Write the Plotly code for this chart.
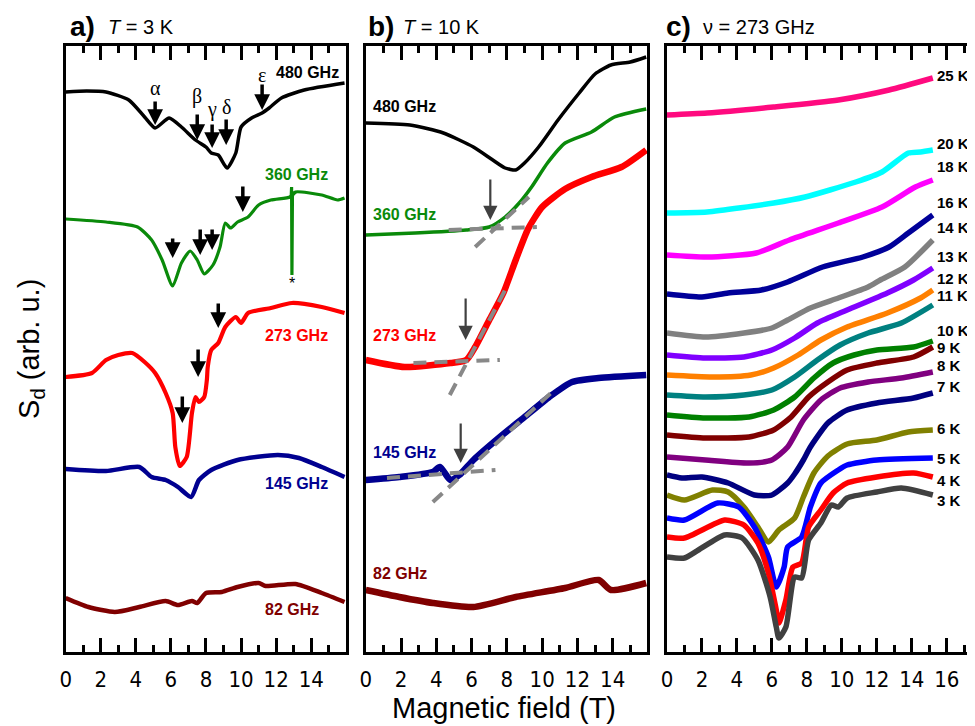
import plotly.graph_objects as go

# ---------------- Panel a: T = 3 K (field in T, signal in arb. units) ----------------
a480_B = [0, 1.2, 2.3, 3.6, 4.5, 5.1, 5.9, 6.6, 7.4, 8.0, 8.3, 8.7, 9.2, 9.7, 10.0, 10.6, 11.2, 11.6, 12.3, 13.6, 15.9]
a480_S = [560, 561, 560, 552, 535, 524, 534, 525, 512, 505, 499, 497, 484, 499, 525, 534, 539, 544, 554, 562, 569]

a360_B = [0, 2.3, 4.1, 4.9, 5.5, 6.1, 6.6, 7.1, 7.5, 7.9, 8.4, 8.8, 9.1, 9.4, 9.8, 10.4, 11.0, 11.7, 12.8, 13.1, 14.6, 15.5, 15.9]
a360_S = [433, 430, 425, 412, 392, 366, 389, 401, 392, 378, 387, 405, 429, 424, 430, 435, 447, 452, 455, 460, 457, 452, 454]
a360_spike_B = [12.8, 12.86, 12.88, 12.9, 12.93, 13.1]
a360_spike_S = [455, 456, 465, 377, 457, 460]

a273_B = [0, 1.5, 2.3, 3.0, 3.8, 4.5, 5.1, 5.7, 6.1, 6.25, 6.5, 6.9, 7.2, 7.4, 7.6, 7.9, 8.05, 8.1, 8.3, 8.7, 9.1, 9.7, 10.0, 10.4, 11.7, 12.9, 14.6, 15.9]
a273_S = [275, 279, 292, 297, 299, 290, 279, 259, 239, 205, 186, 195, 239, 255, 250, 255, 272, 285, 302, 309, 325, 335, 329, 339, 344, 349, 345, 339]

a145_B = [0, 2.3, 4.2, 4.9, 5.7, 6.4, 7.15, 7.6, 8.3, 9.8, 12.1, 13.3, 14.6, 15.9]
a145_S = [183, 181, 185, 175, 172, 165, 155, 172, 182, 192, 197, 194, 185, 175]

a82_B = [0, 1.3, 2.8, 4.2, 5.7, 6.4, 7.2, 7.5, 8.0, 8.9, 9.8, 11.0, 11.4, 13.1, 14.6, 15.9]
a82_S = [54, 45, 40, 45, 51, 47, 51, 49, 59, 60, 65, 69, 66, 68, 59, 50]

# arrows in panel a: field, tip value, tail value
a_arrow_B = [5.1, 7.5, 8.35, 9.15, 11.2, 6.1, 7.67, 8.35, 10.1, 8.7, 7.55, 6.65]
a_arrow_tip = [527, 512, 504, 507, 542, 394, 397, 402, 440, 324, 275, 229]
a_arrow_tail = [552, 539, 529, 534, 569, 415, 424, 424, 467, 350, 304, 257]
greek_labels = ["α", "β", "γ", "δ", "ε"]
greek_S = [564, 555, 542, 545, 577]

# ---------------- Panel b: T = 10 K ----------------
b480_B = [0, 2.5, 4.4, 6.1, 7.2, 7.9, 8.5, 9.0, 9.8, 10.9, 12.1, 13.0, 13.9, 15.0, 15.9]
b480_S = [529, 527, 519, 505, 492, 484, 482, 489, 505, 532, 559, 578, 587, 590, 595]

b360_B = [0, 2.8, 5.7, 7.0, 7.9, 8.7, 9.4, 10.3, 11.3, 12.8, 14.1, 15.9]
b360_S = [417, 419, 422, 425, 435, 449, 465, 489, 509, 520, 535, 543]

b273_B = [0, 2.2, 4.8, 5.7, 6.2, 7.0, 7.8, 8.5, 9.2, 10.0, 11.3, 12.8, 14.5, 15.9]
b273_S = [292, 285, 289, 292, 305, 332, 359, 392, 423, 445, 463, 475, 485, 502]

b145_B = [0, 1.9, 3.8, 4.2, 4.8, 5.3, 6.1, 7.6, 9.0, 10.4, 11.7, 13.2, 15.9]
b145_S = [172, 175, 180, 185, 172, 177, 192, 215, 235, 255, 270, 274, 277]

b82_B = [0, 1.9, 3.8, 6.1, 8.5, 11.3, 13.2, 13.9, 15.9]
b82_S = [62, 55, 49, 45, 55, 64, 72, 62, 69]

# tangent constructions (field pairs, value pairs)
fit360_h_B, fit360_h_S = [4.7, 9.7], [422, 425]
fit360_s_B, fit360_s_S = [6.2, 9.25], [405, 455]
fit273_h_B, fit273_h_S = [2.7, 7.6], [289, 292]
fit273_s_B, fit273_s_S = [4.76, 7.9], [257, 362]
fit145_h_B, fit145_h_S = [1.2, 7.35], [174, 182]
fit145_s_B, fit145_s_S = [3.8, 10.5], [150, 259]

b_arrow_B = [7.06, 5.66, 5.38]
b_arrow_tip = [432, 312, 189]
b_arrow_tail = [474, 355, 230]

# ---------------- Panel c: nu = 273 GHz ----------------
c_temps = ["25 K", "20 K", "18 K", "16 K", "14 K", "13 K", "12 K", "11 K", "10 K", "9 K", "8 K", "7 K", "6 K", "5 K", "4 K", "3 K"]
c_B = [
    [0, 2.3, 6.1, 9.8, 12.7, 15.2],
    [0, 2.3, 6.1, 7.9, 10.8, 12.3, 13.8, 14.5, 15.2],
    [0, 2.3, 5.1, 7.0, 9.8, 12.3, 14.2, 15.2],
    [0, 2.0, 3.5, 5.4, 6.9, 8.9, 11.2, 12.7, 13.8, 15.2],
    [0, 2.2, 4.4, 6.0, 6.9, 8.2, 9.8, 11.5, 12.2, 13.6, 15.2],
    [0, 2.2, 4.4, 6.0, 7.3, 8.6, 10.3, 12.6, 14.1, 15.2],
    [0, 2.6, 4.8, 6.1, 7.5, 8.8, 10.3, 12.6, 14.5, 15.2],
    [0, 2.2, 4.4, 6.0, 7.3, 8.6, 9.9, 11.5, 13.4, 15.2],
    [0, 2.2, 4.7, 6.1, 7.3, 8.4, 9.5, 10.7, 12.0, 14.1, 15.2],
    [0, 2.2, 4.7, 6.1, 7.1, 8.1, 9.2, 10.3, 12.0, 14.1, 15.2],
    [0, 2.2, 4.7, 6.0, 6.9, 7.8, 8.8, 9.9, 11.5, 13.4, 15.2],
    [0, 0.85, 2.0, 3.5, 5.0, 6.0, 6.9, 7.3, 7.8, 8.2, 9.2, 10.3, 12.0, 14.1, 15.2],
    [0, 1.0, 2.6, 3.5, 4.4, 5.2, 5.8, 6.4, 7.3, 7.8, 8.4, 9.2, 10.3, 12.0, 13.8, 15.2],
    [0, 1.0, 2.9, 4.1, 5.0, 5.8, 6.25, 6.7, 6.9, 7.7, 8.2, 8.8, 9.8, 10.3, 12.0, 15.2],
    [0, 1.0, 3.3, 4.4, 5.2, 5.8, 6.25, 6.4, 6.8, 7.2, 7.7, 8.1, 8.8, 9.5, 10.3, 12.0, 14.1, 15.2],
    [0, 1.0, 1.8, 3.3, 4.3, 5.2, 5.9, 6.25, 6.4, 6.8, 7.3, 7.7, 8.1, 8.8, 9.4, 9.8, 10.3, 12.0, 13.4, 15.2],
]
c_S = [
    [537, 539, 545, 552, 562, 574],
    [439, 440, 449, 455, 470, 480, 499, 500, 502],
    [397, 395, 399, 412, 429, 445, 465, 472],
    [358, 355, 359, 362, 370, 385, 395, 405, 419, 437],
    [319, 315, 319, 324, 332, 344, 354, 365, 372, 385, 412],
    [297, 294, 295, 302, 314, 329, 342, 359, 372, 384],
    [277, 275, 277, 284, 297, 312, 325, 339, 354, 362],
    [257, 255, 257, 262, 275, 292, 307, 319, 329, 347],
    [237, 234, 235, 242, 255, 274, 289, 297, 302, 305, 311],
    [217, 214, 215, 222, 235, 255, 270, 282, 289, 295, 305],
    [195, 192, 189, 192, 205, 232, 252, 264, 270, 274, 280],
    [177, 174, 175, 169, 157, 157, 169, 178, 192, 205, 229, 242, 249, 254, 259],
    [157, 152, 162, 160, 145, 125, 110, 122, 134, 155, 179, 196, 208, 212, 220, 222],
    [134, 132, 149, 145, 125, 95, 65, 85, 105, 115, 145, 169, 182, 187, 192, 194],
    [115, 114, 132, 127, 109, 79, 42, 29, 52, 85, 89, 125, 142, 159, 169, 175, 179, 175],
    [95, 94, 102, 117, 114, 92, 55, 25, 14, 25, 75, 74, 112, 129, 147, 145, 154, 160, 164, 157],
]
c_colors = ["#FF0A7F", "#00FFFF", "#FF00FF", "#000099", "#808080", "#8000FF", "#FF8000", "#008080",
            "#008000", "#800000", "#800080", "#000080", "#808000", "#0000FF", "#FF0000", "#404040"]
c_label_S = [576, 508, 485, 449, 424, 395, 374, 357, 322, 305, 287, 266, 224, 194, 172, 152]

freq_labels = ["480 GHz", "360 GHz", "273 GHz", "145 GHz", "82 GHz"]
freq_colors = ["#000000", "#0A8A0A", "#FF0000", "#000090", "#800000"]
a_label_B = [15.7, 15.05, 15.05, 15.05, 14.55]
a_label_S = [579, 477, 317, 169, 43]
b_label_S = [545, 437, 317, 200, 79]

fig = go.Figure()

def add_line(xs, ys, color, width, xa, ya, dash=None, shape="spline"):
    fig.add_trace(go.Scatter(x=xs, y=ys, mode="lines", xaxis=xa, yaxis=ya, showlegend=False,
                             hoverinfo="skip",
                             line=dict(color=color, width=width, shape=shape, smoothing=0.6,
                                       dash=dash)))

# panel a
a_sets = [(a480_B, a480_S, 3.5), (a360_B, a360_S, 3.2), (a273_B, a273_S, 4.2), (a145_B, a145_S, 4.5), (a82_B, a82_S, 4.5)]
for (xs, ys, w), col in zip(a_sets, freq_colors):
    add_line(xs, ys, col, w, "x", "y")
add_line(a360_spike_B, a360_spike_S, freq_colors[1], 3.2, "x", "y", shape="linear")

# panel b
b_sets = [(b480_B, b480_S, 3.5), (b360_B, b360_S, 3.5), (b273_B, b273_S, 6.5), (b145_B, b145_S, 6.5), (b82_B, b82_S, 6.5)]
for (xs, ys, w), col in zip(b_sets, freq_colors):
    add_line(xs, ys, col, w, "x2", "y2")
for xs, ys in [(fit360_h_B, fit360_h_S), (fit360_s_B, fit360_s_S), (fit273_h_B, fit273_h_S),
               (fit273_s_B, fit273_s_S), (fit145_h_B, fit145_h_S), (fit145_s_B, fit145_s_S)]:
    add_line(xs, ys, "#888888", 4, "x2", "y2", dash="13px,8px", shape="linear")

# panel c
for xs, ys, col in zip(c_B, c_S, c_colors):
    add_line(xs, ys, col, 5.5, "x3", "y3")

ann = []
for bx, tip, tail in zip(a_arrow_B, a_arrow_tip, a_arrow_tail):
    ann.append(dict(x=bx, y=tip, ax=bx, ay=tail, xref="x", yref="y", axref="x", ayref="y",
                    showarrow=True, arrowhead=2, arrowsize=0.9, arrowwidth=3.5, arrowcolor="black",
                    text="", standoff=0))
for bx, s, g in zip(a_arrow_B[:5], greek_S, greek_labels):
    ann.append(dict(x=bx, y=s, xref="x", yref="y", text=g, showarrow=False,
                    font=dict(family="Liberation Serif", size=20, color="black")))
ann.append(dict(x=12.9, y=369, xref="x", yref="y", text="*", showarrow=False,
                font=dict(family="Liberation Sans", size=16, color="black")))
for bx, tip, tail in zip(b_arrow_B, b_arrow_tip, b_arrow_tail):
    ann.append(dict(x=bx, y=tip, ax=bx, ay=tail, xref="x2", yref="y2", axref="x2", ayref="y2",
                    showarrow=True, arrowhead=2, arrowsize=1.3, arrowwidth=2.2, arrowcolor="#404040",
                    text="", standoff=0))
for lab, col, bx, s in zip(freq_labels, freq_colors, a_label_B, a_label_S):
    ann.append(dict(x=bx, y=s, xref="x", yref="y", text="<b>%s</b>" % lab, showarrow=False,
                    xanchor="right", font=dict(family="Liberation Sans", size=16, color=col)))
for lab, col, s in zip(freq_labels, freq_colors, b_label_S):
    ann.append(dict(x=0.3, y=s, xref="x2", yref="y2", text="<b>%s</b>" % lab, showarrow=False,
                    xanchor="left", font=dict(family="Liberation Sans", size=16, color=col)))
for lab, s in zip(c_temps, c_label_S):
    ann.append(dict(x=15.3, y=s, xref="x3", yref="y3", text="<b>%s</b>" % lab, showarrow=False,
                    xanchor="left", font=dict(family="Liberation Sans", size=15, color="black")))

# page geometry (the page body adds an 8 px offset)
W, H, OFF = 975, 726, 8
def px(xp): return (xp - OFF) / W
def py(yp): return (H + OFF - yp) / H

for letter, xl, sub, xs_ in [("a)", 62, "<i>T</i> = 3 K", 101), ("b)", 362, "<i>T</i> = 10 K", 397),
                             ("c)", 662, "ν = 273 GHz", 699)]:
    ann.append(dict(x=px(xl), y=py(27), xref="paper", yref="paper", text="<b>%s</b>" % letter,
                    showarrow=False, xanchor="left", yanchor="middle",
                    font=dict(family="Liberation Sans", size=28, color="black")))
    ann.append(dict(x=px(xs_), y=py(27), xref="paper", yref="paper", text=sub,
                    showarrow=False, xanchor="left", yanchor="middle",
                    font=dict(family="Liberation Sans", size=20, color="black")))
ann.append(dict(x=px(25), y=py(349), xref="paper", yref="paper", text="S<sub>d</sub> (arb. u.)",
                textangle=-90, showarrow=False, xanchor="center", yanchor="middle",
                font=dict(family="Liberation Sans", size=29, color="black")))
ann.append(dict(x=px(501), y=py(708), xref="paper", yref="paper", text="Magnetic field (T)",
                showarrow=False, xanchor="center", yanchor="middle",
                font=dict(family="Liberation Sans", size=29, color="black")))

def xax(d0, d1, anchor, rng):
    return dict(domain=[px(d0), min(1, px(d1))], anchor=anchor, range=rng, tickmode="linear", tick0=0, dtick=2,
                ticks="inside", ticklen=14, tickwidth=2.5, tickcolor="black",
                showline=True, linecolor="black", linewidth=2.5, mirror="allticks",
                minor=dict(dtick=1, tick0=0, ticks="inside", ticklen=7, tickwidth=2.5, tickcolor="black"),
                tickfont=dict(family="DejaVu Sans Condensed, DejaVu Sans", size=22, color="black"),
                showgrid=False, zeroline=False, ticklabelstandoff=6)

def yax(anchor, mirror):
    return dict(domain=[py(652), py(46)], anchor=anchor, range=[0, 606], showline=True,
                linecolor="black", linewidth=2.5, mirror=mirror, ticks="", showticklabels=False,
                showgrid=False, zeroline=False)

fig.update_layout(
    width=W, height=H, margin=dict(l=0, r=0, t=0, b=0),
    paper_bgcolor="white", plot_bgcolor="white",
    xaxis=xax(60, 342, "y", [0, 15.98]),
    xaxis2=xax(362, 645, "y2", [0, 15.95]),
    xaxis3=xax(665, 983, "y3", [0, 18.07]),
    yaxis=yax("x", True),
    yaxis2=yax("x2", True),
    yaxis3=yax("x3", False),
    annotations=ann,
)

fig.write_html("out.html")
